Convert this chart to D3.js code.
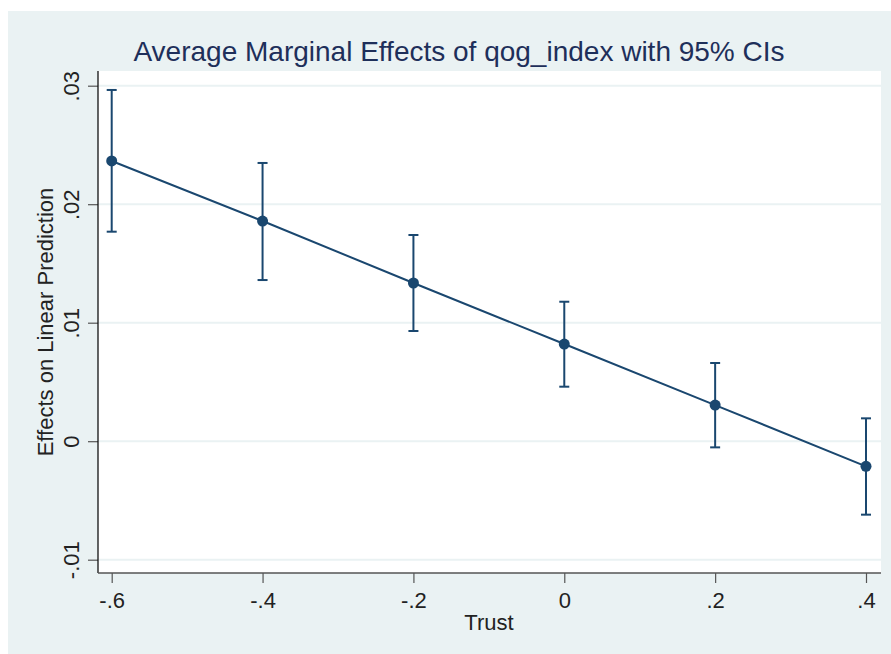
<!DOCTYPE html>
<html>
<head>
<meta charset="utf-8">
<script src="https://cdn.jsdelivr.net/npm/d3@7"></script>
<style>
  body { margin: 0; background: #fff; }
  text { font-family: "Liberation Sans", Arial, sans-serif; }
</style>
</head>
<body>
<svg id="chart"></svg>
<script>
const width = 891;
const height = 654;

// values
const trust = [-0.6, -0.4, -0.2, 0, 0.2, 0.4];
const effect = [0.02365, 0.01858, 0.01335, 0.0082, 0.00305, -0.00212];
const ciLow = [0.01768, 0.0136, 0.0093, 0.0046, -0.00052, -0.0062];
const ciHigh = [0.02964, 0.02348, 0.0174, 0.01177, 0.0066, 0.00193];

const xTicks = [-0.6, -0.4, -0.2, 0, 0.2, 0.4];
const xTickLabels = ["-.6", "-.4", "-.2", "0", ".2", ".4"];
const yTicks = [-0.01, 0, 0.01, 0.02, 0.03];
const yTickLabels = ["-.01", "0", ".01", ".02", ".03"];

const navy = "#1a476f";
const bg = "#eaf2f3";

const svg = d3.select("#chart")
  .attr("width", width)
  .attr("height", height);

// outer graph region
svg.append("rect")
  .attr("x", 8).attr("y", 11)
  .attr("width", width - 8).attr("height", height - 11)
  .attr("fill", bg);

const plot = { left: 98, top: 71, right: 881, bottom: 573 };

svg.append("rect")
  .attr("x", plot.left).attr("y", plot.top)
  .attr("width", plot.right - plot.left)
  .attr("height", plot.bottom - plot.top)
  .attr("fill", "#fff");

const xScale = d3.scaleLinear()
  .domain([-0.6, 0.4])
  .range([111.7, 866]);

const yScale = d3.scaleLinear()
  .domain([-0.01, 0.03])
  .range([559.7, 85.7]);

//gridlines
svg.selectAll(".grid")
  .data(yTicks)
  .enter()
  .append("line")
  .attr("class", "grid")
  .attr("x1", plot.left).attr("x2", plot.right)
  .attr("y1", d => yScale(d)).attr("y2", d => yScale(d))
  .attr("stroke", bg)
  .attr("stroke-width", 2);

//axes
const yAxis = svg.append("g")
  .attr("transform", `translate(${plot.left},0)`)
  .call(d3.axisLeft(yScale)
    .tickValues(yTicks)
    .tickFormat((d, i) => yTickLabels[i])
    .tickSize(10)
    .tickPadding(0));
yAxis.select(".domain").remove();
yAxis.selectAll(".tick line").attr("stroke", "#555").attr("stroke-width", 1.2);
yAxis.selectAll(".tick text")
  .attr("transform", "rotate(-90)")
  .attr("x", 0)
  .attr("y", -19)
  .attr("dy", 0)
  .attr("text-anchor", "middle")
  .attr("font-size", 22)
  .attr("fill", "#222");

const xAxis = svg.append("g")
  .attr("transform", `translate(0,${plot.bottom})`)
  .call(d3.axisBottom(xScale)
    .tickValues(xTicks)
    .tickFormat((d, i) => xTickLabels[i])
    .tickSize(10));
xAxis.select(".domain").remove();
xAxis.selectAll(".tick line").attr("stroke", "#555").attr("stroke-width", 1.2);
xAxis.selectAll(".tick text")
  .attr("y", 35)
  .attr("dy", 0)
  .attr("font-size", 22)
  .attr("fill", "#222");

svg.append("line")
  .attr("x1", plot.left).attr("x2", plot.left)
  .attr("y1", plot.top).attr("y2", plot.bottom)
  .attr("stroke", "#111").attr("stroke-width", 1.3);
svg.append("line")
  .attr("x1", plot.left).attr("x2", plot.right)
  .attr("y1", plot.bottom).attr("y2", plot.bottom)
  .attr("stroke", "#555").attr("stroke-width", 1.3);

const data = trust.map((t, i) => ({ x: t, y: effect[i], lo: ciLow[i], hi: ciHigh[i] }));

//error bars
const ci = svg.append("g")
  .attr("stroke", navy)
  .attr("stroke-width", 2);
ci.selectAll(".ci")
  .data(data)
  .enter()
  .append("line")
  .attr("x1", d => xScale(d.x)).attr("x2", d => xScale(d.x))
  .attr("y1", d => yScale(d.lo)).attr("y2", d => yScale(d.hi));
ci.selectAll(".cap-hi")
  .data(data)
  .enter()
  .append("line")
  .attr("x1", d => xScale(d.x) - 5).attr("x2", d => xScale(d.x) + 5)
  .attr("y1", d => yScale(d.hi)).attr("y2", d => yScale(d.hi));
ci.selectAll(".cap-lo")
  .data(data)
  .enter()
  .append("line")
  .attr("x1", d => xScale(d.x) - 5).attr("x2", d => xScale(d.x) + 5)
  .attr("y1", d => yScale(d.lo)).attr("y2", d => yScale(d.lo));

//line
const line = d3.line()
  .x(d => xScale(d.x))
  .y(d => yScale(d.y));
svg.append("path")
  .datum(data)
  .attr("fill", "none")
  .attr("stroke", navy)
  .attr("stroke-width", 2)
  .attr("d", line);

svg.selectAll(".dot")
  .data(data)
  .enter()
  .append("circle")
  .attr("cx", d => xScale(d.x))
  .attr("cy", d => yScale(d.y))
  .attr("r", 5.5)
  .attr("fill", navy);

//titles
svg.append("text")
  .attr("x", 459)
  .attr("y", 61)
  .attr("text-anchor", "middle")
  .attr("font-size", 28)
  .attr("fill", "#1e2f5a")
  .text("Average Marginal Effects of qog_index with 95% CIs");

svg.append("text")
  .attr("x", 489)
  .attr("y", 630)
  .attr("text-anchor", "middle")
  .attr("font-size", 22)
  .attr("fill", "#222")
  .text("Trust");

svg.append("text")
  .attr("transform", "rotate(-90)")
  .attr("x", -322)
  .attr("y", 53)
  .attr("text-anchor", "middle")
  .attr("font-size", 22)
  .attr("fill", "#222")
  .text("Effects on Linear Prediction");
</script>
</body>
</html>
